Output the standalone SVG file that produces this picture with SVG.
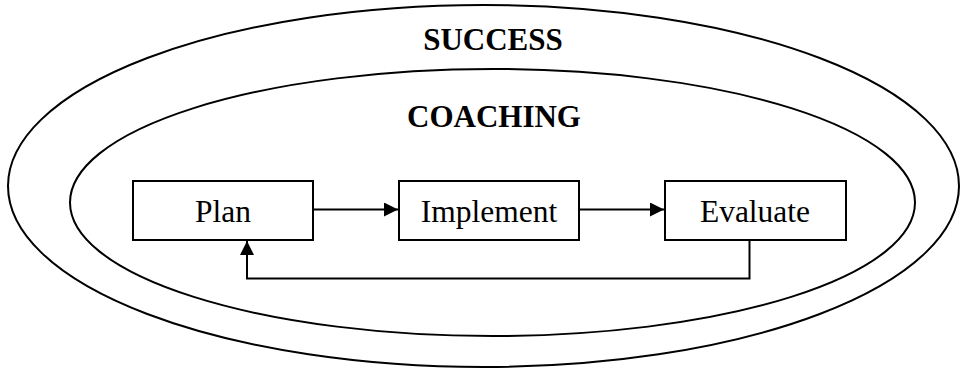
<svg xmlns="http://www.w3.org/2000/svg" width="961" height="369" viewBox="0 0 961 369">
<style>
.ring{fill:none;stroke:#000;stroke-width:2}
.box{fill:#fff;stroke:#000;stroke-width:2}
.lbl{font-family:"Liberation Serif","Times New Roman",serif;font-size:31.5px;fill:#000;text-anchor:middle}
.title{font-family:"Liberation Serif","Times New Roman",serif;font-size:31px;font-weight:bold;fill:#000;text-anchor:middle}
.conn{fill:none;stroke:#000;stroke-width:2}
</style>
<defs>
<marker id="ah" viewBox="0 0 14 14" refX="14" refY="7" markerWidth="14" markerHeight="14" markerUnits="userSpaceOnUse" orient="auto">
<path d="M0,0 L14,7 L0,14 Z" fill="#000"/>
</marker>
</defs>
<g id="success">
<ellipse class="ring" cx="483.5" cy="186" rx="475.5" ry="181"/>
<text class="title" x="493" y="50">SUCCESS</text>
</g>
<g id="coaching">
<ellipse class="ring" cx="492.5" cy="202.5" rx="422.5" ry="133.5"/>
<text class="title" x="494" y="126.5">COACHING</text>
</g>
<g id="plan">
<rect class="box" x="133" y="181" width="180" height="59"/>
<text class="lbl" x="223" y="222">Plan</text>
</g>
<g id="implement">
<rect class="box" x="399" y="181" width="180" height="59"/>
<text class="lbl" x="489" y="222">Implement</text>
</g>
<g id="evaluate">
<rect class="box" x="665" y="181" width="181" height="59"/>
<text class="lbl" x="755" y="222">Evaluate</text>
</g>
<g id="connectors">
<line class="conn" x1="313" y1="209.5" x2="398" y2="209.5" marker-end="url(#ah)"/>
<line class="conn" x1="579" y1="209.5" x2="664" y2="209.5" marker-end="url(#ah)"/>
<polyline class="conn" points="749.5,240 749.5,278.5 247,278.5 247,241" marker-end="url(#ah)"/>
</g>
</svg>
